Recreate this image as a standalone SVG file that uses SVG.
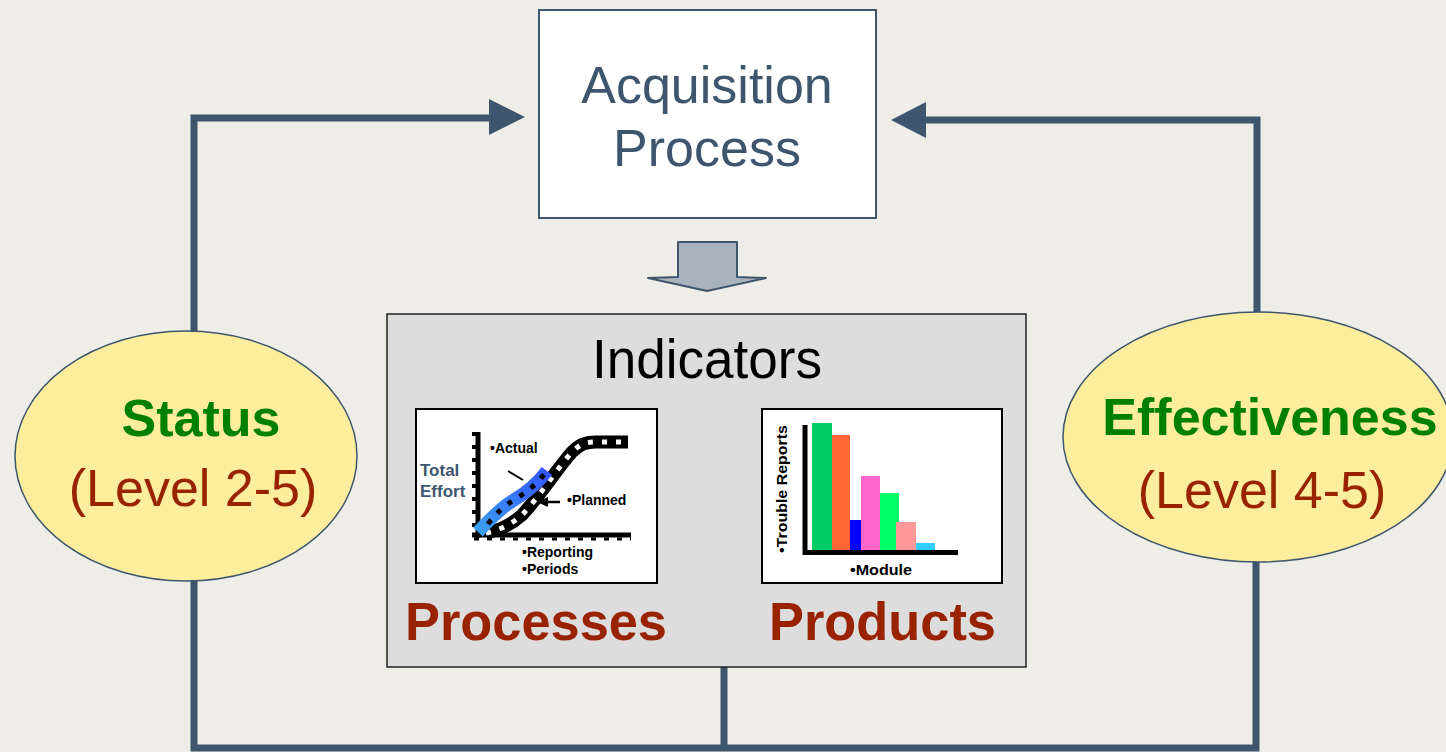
<svg xmlns="http://www.w3.org/2000/svg" width="1446" height="752" viewBox="0 0 1446 752">
  <defs>
    <style>
      .conn { fill: none; stroke: #3d566e; stroke-width: 7; stroke-linejoin: miter; stroke-linecap: butt; }
      .head { fill: #3d566e; }
      .ell { fill: #fcee9c; stroke: #3d566e; stroke-width: 1.5; }
      .big { font-family: "Liberation Sans", Arial, sans-serif; font-size: 52px; text-anchor: middle; }
      .green { fill: #008000; font-weight: bold; }
      .rust { fill: #992200; }
      .narrow { font-family: "Liberation Sans Narrow", "Liberation Sans", Arial, sans-serif; }
      .lbl { font-family: "Liberation Sans", Arial, sans-serif; font-weight: bold; font-size: 14px; fill: #000; }
      .chart { fill: #fff; stroke: #000; stroke-width: 2; }
    </style>
    <linearGradient id="blueBand" x1="0" y1="1" x2="1" y2="0">
      <stop offset="0" stop-color="#3aa0f0"/>
      <stop offset="1" stop-color="#3355ff"/>
    </linearGradient>
  </defs>

  <rect width="1446" height="752" fill="#eeede7"/>

  <!-- connectors -->
  <g id="connectors">
    <path class="conn" d="M194,331 V118 H491"/>
    <polygon class="head" points="489,99 525,117 489,135"/>
    <path class="conn" d="M1257,313 V120 H924"/>
    <polygon class="head" points="926,102 891,120 926,138"/>
    <path class="conn" d="M194,581 V748 H1256 V561"/>
    <path class="conn" d="M724,667 V748"/>
    <polygon fill="#a9b3bd" stroke="#3d566e" stroke-width="2" stroke-linejoin="round"
             points="678,242 737,242 737,277 766,278 707,291 648,278 678,277"/>
  </g>

  <!-- Acquisition Process -->
  <g id="acquisition">
    <rect x="539" y="10" width="337" height="208" fill="#fff" stroke="#3d566e" stroke-width="2"/>
    <text class="big" x="707" y="103" fill="#3d566e">Acquisition</text>
    <text class="big" x="707" y="166" fill="#3d566e">Process</text>
  </g>

  <!-- Status -->
  <g id="status">
    <ellipse class="ell" cx="186" cy="456" rx="171" ry="125"/>
    <text class="big green" x="201" y="436">Status</text>
    <text class="big rust" x="193" y="506">(Level 2-5)</text>
  </g>

  <!-- Effectiveness -->
  <g id="effectiveness">
    <ellipse class="ell" cx="1258" cy="437" rx="195" ry="125"/>
    <text class="big green" x="1270" y="435">Effectiveness</text>
    <text class="big rust" x="1262" y="508">(Level 4-5)</text>
  </g>

  <!-- Indicators -->
  <g id="indicators">
    <rect x="387" y="314" width="639" height="353" fill="#dddddd" stroke="#222" stroke-width="1.5"/>
    <text class="narrow" x="592" y="378" font-size="55" textLength="230" lengthAdjust="spacingAndGlyphs" fill="#000">Indicators</text>
    <text class="narrow rust" x="405" y="640" font-size="53" font-weight="bold" textLength="262" lengthAdjust="spacingAndGlyphs">Processes</text>
    <text class="narrow rust" x="769" y="640" font-size="53" font-weight="bold" textLength="227" lengthAdjust="spacingAndGlyphs">Products</text>
  </g>

  <!-- Effort chart -->
  <g id="effort-chart">
    <rect class="chart" x="416" y="409" width="241" height="174"/>
    <!-- axes -->
    <line x1="478" y1="432" x2="478" y2="538" stroke="#000" stroke-width="5"/>
    <line x1="474" y1="432" x2="474" y2="536" stroke="#000" stroke-width="4" stroke-dasharray="4 9"/>
    <line x1="472" y1="535" x2="631" y2="535" stroke="#000" stroke-width="5"/>
    <line x1="474" y1="539" x2="631" y2="539" stroke="#000" stroke-width="3" stroke-dasharray="5 8"/>
    <!-- planned curve -->
    <path d="M486,533 C500,530 512,524 522,515 C540,496 556,470 572,452 C580,444 586,442 596,442 L628,442"
          fill="none" stroke="#000" stroke-width="13"/>
    <path d="M486,533 C500,530 512,524 522,515 C540,496 556,470 572,452 C580,444 586,442 596,442 L628,442"
          fill="none" stroke="#fff" stroke-width="5" stroke-dasharray="5 9"/>
    <!-- actual curve -->
    <path d="M478,532 Q500,508 514,500 Q534,488 547,471" fill="none" stroke="url(#blueBand)" stroke-width="13" stroke-linejoin="round"/>
    <path d="M488,524 Q500,508 514,500 Q534,488 547,471" fill="none" stroke="#000" stroke-width="5" stroke-dasharray="5 9"/>
    <!-- labels -->
    <text class="lbl" x="490" y="453">•Actual</text>
    <line x1="508" y1="471" x2="523" y2="480" stroke="#000" stroke-width="2"/>
    <text class="lbl" x="567" y="505">•Planned</text>
    <line x1="560" y1="502" x2="546" y2="502" stroke="#000" stroke-width="2.5"/>
    <polygon points="537,502 548,497 548,507" fill="#000"/>
    <text x="420" y="476" font-family="'Liberation Sans', Arial, sans-serif" font-weight="bold" font-size="17" fill="#3d566e">Total</text>
    <text x="420" y="497" font-family="'Liberation Sans', Arial, sans-serif" font-weight="bold" font-size="17" fill="#3d566e">Effort</text>
    <text class="lbl" x="522" y="557">•Reporting</text>
    <text class="lbl" x="522" y="574">•Periods</text>
  </g>

  <!-- Trouble reports chart -->
  <g id="trouble-chart">
    <rect class="chart" x="762" y="409" width="240" height="174"/>
    <rect x="812" y="423" width="20" height="128" fill="#00cc66"/>
    <rect x="832" y="435" width="18" height="116" fill="#ff6633"/>
    <rect x="850" y="520" width="11" height="31" fill="#0000ff"/>
    <rect x="861" y="476" width="19" height="75" fill="#ff66cc"/>
    <rect x="880" y="493" width="19" height="58" fill="#00ff66"/>
    <rect x="896" y="522" width="20" height="29" fill="#ff9999"/>
    <rect x="916" y="543" width="19" height="8" fill="#33ccff"/>
    <line x1="805" y1="425" x2="805" y2="555" stroke="#000" stroke-width="5"/>
    <line x1="803" y1="552.5" x2="958" y2="552.5" stroke="#000" stroke-width="5"/>
    <text class="lbl" transform="translate(787,553) rotate(-90)" textLength="128" lengthAdjust="spacingAndGlyphs">•Trouble Reports</text>
    <text class="lbl" x="850" y="575" textLength="62" lengthAdjust="spacingAndGlyphs">•Module</text>
  </g>
</svg>
